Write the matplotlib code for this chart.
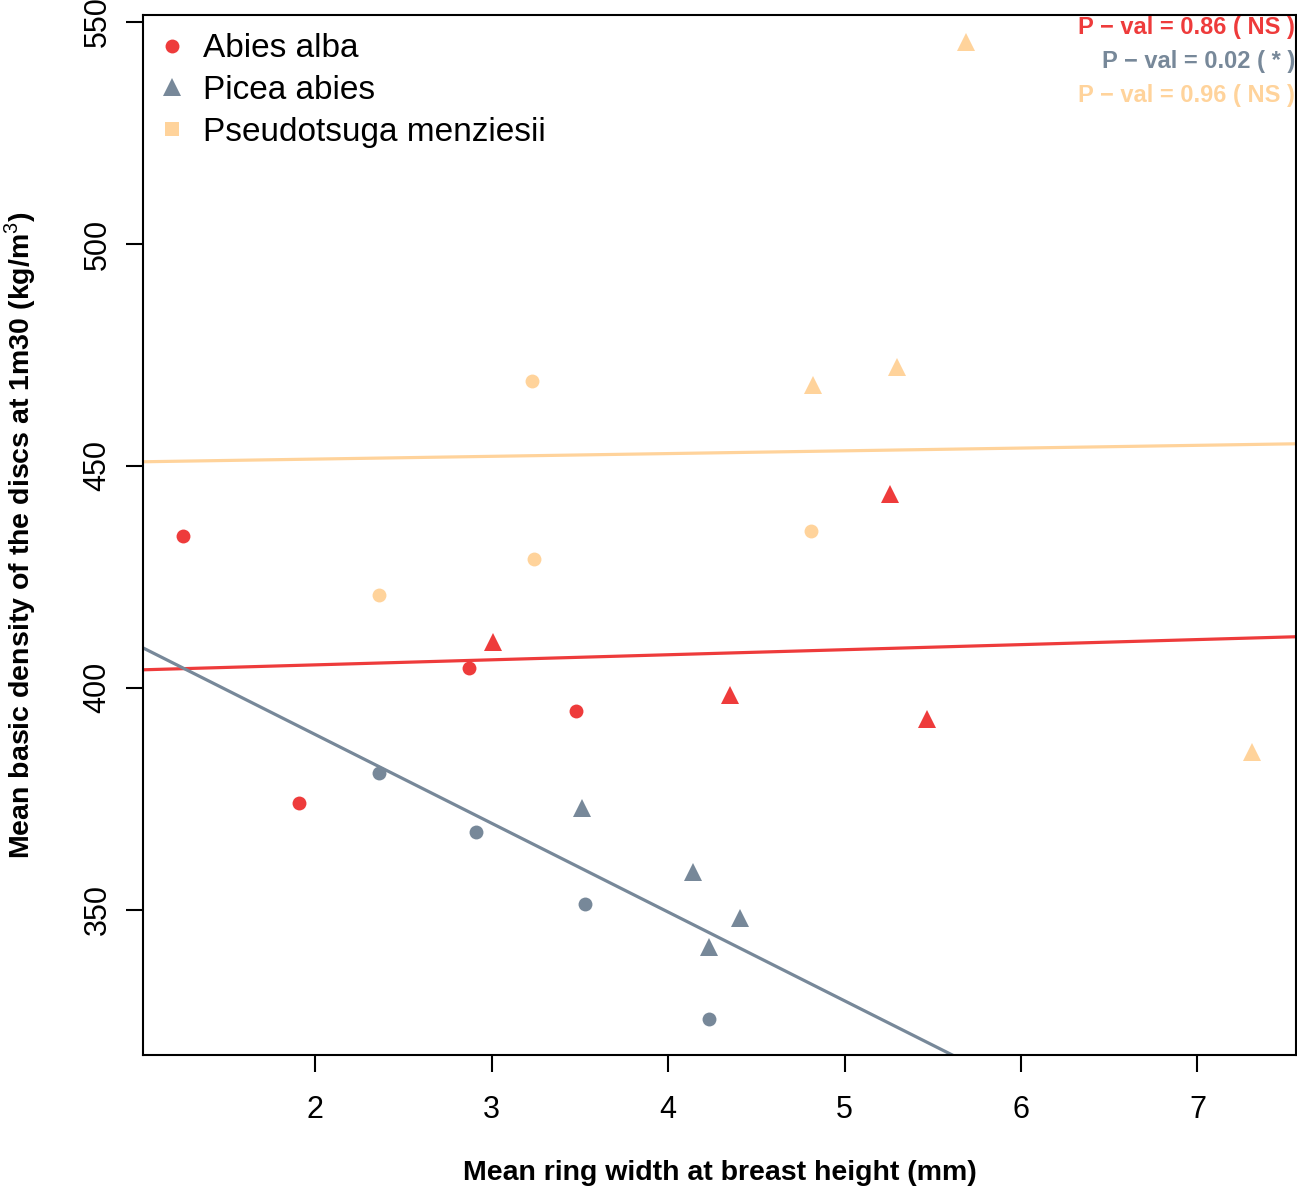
import numpy as np
import matplotlib.pyplot as plt
from matplotlib.lines import Line2D

plt.rcParams['font.family'] = ['Liberation Sans', 'DejaVu Sans']
plt.rcParams['mathtext.fontset'] = 'custom'
plt.rcParams['mathtext.rm'] = 'Liberation Sans'
plt.rcParams['mathtext.bf'] = 'Liberation Sans:bold'

species = ['Abies alba', 'Picea abies', 'Pseudotsuga menziesii']
colors = ['#EE3B3B', '#778899', '#FFD39B']

# ring width (mm) / basic density (kg/m3), two groups per species (circles, triangles)
circ_x = [[1.25, 1.91, 2.87, 3.48],
          [2.36, 2.91, 3.53, 4.23],
          [2.36, 3.23, 3.24, 4.81]]
circ_y = [[434.2, 374.1, 404.5, 394.8],
          [380.9, 367.6, 351.4, 325.5],
          [420.9, 469.1, 429.1, 435.4]]
tri_x = [[3.01, 4.35, 5.26, 5.47],
         [3.51, 4.14, 4.41, 4.23],
         [4.82, 5.30, 5.69, 7.31]]
tri_y = [[410.4, 398.4, 443.7, 393.0],
         [373.0, 358.6, 348.2, 341.7],
         [468.2, 472.3, 545.5, 385.6]]

# fitted regression lines
intercepts = [402.9, 429.5, 450.3]
slopes = [1.14, -20.0, 0.62]
pvals = ['P \u2212 val = 0.86 ( NS )', 'P \u2212 val = 0.02 ( * )', 'P \u2212 val = 0.96 ( NS )']

fig = plt.figure(figsize=(12.97, 11.86), dpi=100)
ax = fig.add_axes([0.1103, 0.1105, 0.8889, 0.8769])

xlim = (1.025, 7.558)
ylim = (317.3, 551.6)

for i in range(3):
    ax.plot(circ_x[i], circ_y[i], 'o', color=colors[i], ms=10, mew=0, zorder=3)
    ax.plot(tri_x[i], tri_y[i], '^', color=colors[i], ms=13, mew=0, zorder=3)
    xs = np.array(xlim)
    ax.plot(xs, intercepts[i] + slopes[i] * xs, color=colors[i], lw=2.3, zorder=2)

ax.set_xlim(xlim)
ax.set_ylim(ylim)
ax.set_xticks([2, 3, 4, 5, 6, 7])
ax.set_yticks([350, 400, 450, 500, 550])
ax.tick_params(axis='both', length=12, width=1.5, labelsize=22)
ax.tick_params(axis='x', pad=17)
ax.tick_params(axis='y', pad=10)
plt.setp(ax.get_yticklabels(), rotation=90, va='center')
for s in ax.spines.values():
    s.set_linewidth(1.5)

ax.set_xlabel('Mean ring width at breast height (mm)', fontsize=20.5,
              fontweight='bold')
ax.set_ylabel('Mean basic density of the discs at 1m30 (kg/m$^3$)', fontsize=20.5,
              fontweight='bold')
ax.xaxis.set_label_coords(0.5, -0.101)
ax.yaxis.set_label_coords(-0.0915, 0.5)

handles = [Line2D([], [], marker='o', ls='', color=colors[0], ms=10, mew=0),
           Line2D([], [], marker='^', ls='', color=colors[1], ms=13, mew=0),
           Line2D([], [], marker='s', ls='', color=colors[2], ms=10, mew=0)]
ax.legend(handles, species, loc='upper left', bbox_to_anchor=(-0.004, 0.995),
          frameon=False, fontsize=24, handletextpad=0.35, labelspacing=0.32,
          borderaxespad=0.0, handlelength=1.2)

for i in range(3):
    ax.text(0.999, 0.9875 - i * 0.0327, pvals[i], transform=ax.transAxes,
            ha='right', va='center', color=colors[i], fontsize=17, fontweight='bold')

fig.savefig('out.png', dpi=100)
